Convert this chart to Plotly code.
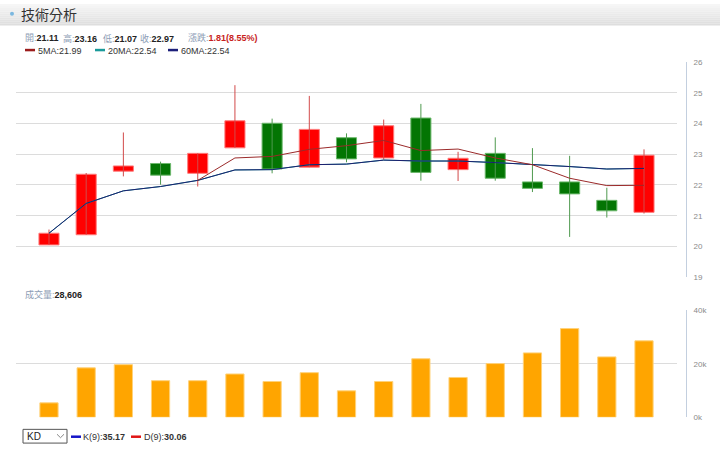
import plotly.graph_objects as go

# ---------------- data ----------------
day = list(range(1, 18))
open_ = [20.05, 20.38, 22.45, 22.70, 22.38, 23.21, 24.01, 22.58, 23.54, 22.88, 24.18, 22.50, 23.03, 22.10, 22.10, 21.50, 21.11]
high = [20.55, 22.39, 23.71, 22.76, 23.03, 25.25, 24.16, 24.90, 23.68, 24.13, 24.64, 23.08, 23.55, 23.20, 22.95, 21.91, 23.16]
low = [20.05, 20.38, 22.28, 22.01, 21.95, 23.21, 22.38, 22.58, 22.74, 22.83, 22.14, 22.13, 22.14, 21.77, 20.31, 20.94, 21.07]
close = [20.43, 22.35, 22.62, 22.32, 23.03, 24.09, 22.52, 23.81, 22.85, 23.93, 22.41, 22.87, 22.22, 21.89, 21.71, 21.16, 22.97]
ma5 = [None, None, None, None, 22.15, 22.88, 22.93, 23.16, 23.28, 23.45, 23.12, 23.17, 22.88, 22.66, 22.22, 21.98, 21.99]
ma20 = [20.43, 21.40, 21.81, 21.95, 22.15, 22.49, 22.50, 22.66, 22.68, 22.81, 22.78, 22.78, 22.73, 22.67, 22.60, 22.52, 22.54]
ma60 = [20.43, 21.40, 21.81, 21.95, 22.15, 22.49, 22.50, 22.66, 22.68, 22.81, 22.78, 22.78, 22.73, 22.67, 22.60, 22.52, 22.54]
volume = [5400, 18500, 19700, 13700, 13700, 16200, 13400, 16700, 9900, 13400, 21900, 14900, 20100, 24100, 33200, 22600, 28606]

price_ticks = [19, 20, 21, 22, 23, 24, 25, 26]
vol_ticks = [0, 20000, 40000]
vol_ticktext = ["0k", "20k", "40k"]

W, H = 720, 452
FONT = "Liberation Sans, Arial, Noto Sans CJK TC, sans-serif"
CJK = "Noto Sans CJK TC, Liberation Sans, sans-serif"


def px(x):
    return x / W


def py(y):
    return 1 - y / H


UP_BODY, UP_EDGE, UP_WICK = "#ff0000", "#ff7a7a", "#d24a4a"
DN_BODY, DN_EDGE, DN_WICK = "#037503", "#6cb86c", "#4f9a4f"

up = [c >= o for o, c in zip(open_, close)]

fig = go.Figure()

# wicks
wx_up, wy_up, wx_dn, wy_dn = [], [], [], []
for d, h, l, u in zip(day, high, low, up):
    if u:
        wx_up += [d, d, None]
        wy_up += [l, h, None]
    else:
        wx_dn += [d, d, None]
        wy_dn += [l, h, None]
fig.add_trace(go.Scatter(x=wx_up, y=wy_up, mode="lines", line=dict(color=UP_WICK, width=1),
                         hoverinfo="skip", showlegend=False, xaxis="x", yaxis="y"))
fig.add_trace(go.Scatter(x=wx_dn, y=wy_dn, mode="lines", line=dict(color=DN_WICK, width=1),
                         hoverinfo="skip", showlegend=False, xaxis="x", yaxis="y"))

# bodies
fig.add_trace(go.Bar(
    x=day, base=open_, y=[c - o for o, c in zip(open_, close)], width=0.54,
    marker=dict(color=[UP_BODY if u else DN_BODY for u in up],
                line=dict(color=[UP_EDGE if u else DN_EDGE for u in up], width=1)),
    showlegend=False, xaxis="x", yaxis="y"))

# moving averages
fig.add_trace(go.Scatter(x=day, y=ma20, mode="lines", line=dict(color="#1a9a9a", width=1),
                         showlegend=False, xaxis="x", yaxis="y"))
fig.add_trace(go.Scatter(x=day, y=ma60, mode="lines", line=dict(color="#1c1f6e", width=1),
                         showlegend=False, xaxis="x", yaxis="y"))
fig.add_trace(go.Scatter(x=day, y=ma5, mode="lines", line=dict(color="#9b2a2a", width=1),
                         showlegend=False, xaxis="x", yaxis="y"))

# volume
fig.add_trace(go.Bar(x=day, y=volume, width=0.49,
                     marker=dict(color="#ffa500", line=dict(color="#ffd27a", width=1)),
                     showlegend=False, xaxis="x2", yaxis="y2"))

xdom = [px(16), px(677)]
xrng = [0.113, 17.887]
axis_line = "#c3cfdf"
tickfont = dict(size=8, color="#8a8a8a", family=FONT)

fig.update_layout(
    width=W, height=H,
    margin=dict(l=0, r=0, t=0, b=0),
    paper_bgcolor="white", plot_bgcolor="white",
    barmode="overlay",
    showlegend=False,
    xaxis=dict(domain=xdom, range=xrng, visible=False, anchor="y"),
    xaxis2=dict(domain=xdom, range=xrng, visible=False, anchor="y2", matches="x"),
    yaxis=dict(domain=[py(278.7), py(59.3)], range=[19, 26], anchor="free", position=px(686),
               side="right", showline=True, linecolor=axis_line, linewidth=1,
               showgrid=True, gridcolor="#dcdcdc", gridwidth=1, zeroline=False,
               tickvals=price_ticks, ticks="", tickfont=tickfont, ticklabelstandoff=5),
    yaxis2=dict(domain=[py(421.7), py(312.6)], range=[0, 40000], anchor="free", position=px(686),
                side="right", showline=True, linecolor=axis_line, linewidth=1,
                showgrid=True, gridcolor="#dcdcdc", gridwidth=1, zeroline=False,
                tickvals=vol_ticks, ticktext=vol_ticktext, ticks="", tickfont=tickfont,
                ticklabelstandoff=5),
)

shapes = []
# title bar gradient
n = 11
top_c, bot_c = (246, 246, 246), (222, 222, 222)
for i in range(n):
    t = i / (n - 1)
    c = tuple(int(round(a + (b - a) * t)) for a, b in zip(top_c, bot_c))
    y0 = 22 * i / n
    y1 = 22 * (i + 1) / n
    shapes.append(dict(type="rect", xref="paper", yref="paper", x0=0, x1=1,
                       y0=py(y1), y1=py(y0), fillcolor="rgb(%d,%d,%d)" % c, line=dict(width=0),
                       layer="below"))
# bullet
shapes.append(dict(type="circle", xref="paper", yref="paper", x0=px(10), x1=px(14),
                   y0=py(12), y1=py(8), fillcolor="#7bb8e0", line=dict(width=0)))
# legend dashes
for x0, col in [(25, "#9b1c1c"), (95, "#1a9a9a"), (168, "#1c1f7a")]:
    shapes.append(dict(type="line", xref="paper", yref="paper", x0=px(x0), x1=px(x0 + 10),
                       y0=py(47), y1=py(47), line=dict(color=col, width=2.5)))
# KD select box
shapes.append(dict(type="rect", xref="paper", yref="paper", x0=px(23), x1=px(67),
                   y0=py(448), y1=py(434), fillcolor="white", line=dict(color="#555555", width=1)))
shapes.append(dict(type="path", xref="paper", yref="paper",
                   path="M %f,%f L %f,%f L %f,%f" % (px(57), py(439), px(60.5), py(442.5), px(64), py(439)),
                   line=dict(color="#888888", width=1)))
for x0, col in [(71, "#1515c8"), (131, "#e01515")]:
    shapes.append(dict(type="line", xref="paper", yref="paper", x0=px(x0), x1=px(x0 + 10),
                       y0=py(441.5), y1=py(441.5), line=dict(color=col, width=2.5)))
fig.update_layout(shapes=shapes)

LBL = "#8d9db5"
ann = []


def note(x, y, text, size=9, family=FONT, color="#222"):
    ann.append(dict(x=px(x), y=py(y), xref="paper", yref="paper", text=text, showarrow=False,
                    xanchor="left", yanchor="middle", font=dict(size=size, family=family, color=color)))


note(19, 10, "技術分析", size=14, family=CJK, color="#333333")
note(23, 35, '<span style="color:%s">開:</span><b>21.11</b>' % LBL)
note(61, 35, '<span style="color:%s">高:</span><b>23.16</b>' % LBL)
note(101, 35, '<span style="color:%s">低:</span><b>21.07</b>' % LBL)
note(138, 35, '<span style="color:%s">收:</span><b>22.97</b>' % LBL)
note(186, 35, '<span style="color:%s">漲跌:</span><b><span style="color:#c81e1e">1.81(8.55%%)</span></b>' % LBL)
note(36, 47.5, "5MA:21.99", color="#333")
note(106, 47.5, "20MA:22.54", color="#333")
note(179, 47.5, "60MA:22.54", color="#333")
note(23, 296, '<span style="color:%s">成交量:</span><b>28,606</b>' % LBL)
note(25, 441, "KD", size=10, color="#222")
note(81, 442, "K(9):<b>35.17</b>", color="#333")
note(142, 442, "D(9):<b>30.06</b>", color="#333")
fig.update_layout(annotations=ann)

fig.write_html("out.html", config={"displayModeBar": False},
               post_script="document.body.style.margin='0';document.body.style.overflow='hidden';")
